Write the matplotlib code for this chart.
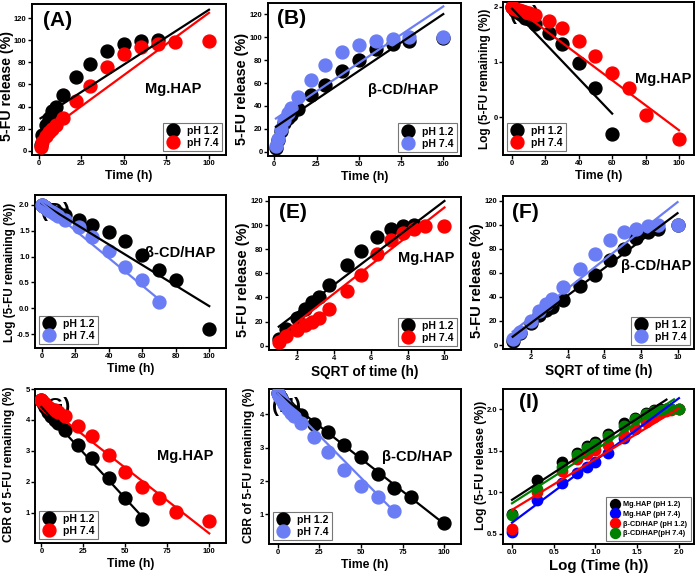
import numpy as np
import matplotlib
matplotlib.use("Agg")
import matplotlib.pyplot as plt

plt.rcParams['font.family'] = ['Liberation Sans', 'DejaVu Sans']
plt.rcParams['font.weight'] = 'bold'
plt.rcParams['axes.labelweight'] = 'bold'

# ---------------- data ----------------
time_h = [0, 1, 2, 4, 6, 8, 10, 14, 22, 30, 40, 50, 60, 70, 80, 100]
# cumulative 5-FU release (%) ; first value is t = 0
mg_ph12 = [0, 5.5, 14, 23, 30, 36, 40, 50, 67, 78.6, 90.5, 96.7, 99.5, 100]
mg_ph74 = [0, 3.3, 8, 13, 17, 20, 23, 30, 45, 58.3, 76, 87.4, 93.7, 96.7, 98.9, 99.6]
cd_ph12 = [0, 3.6, 10, 18, 25, 29, 32, 37.4, 49.4, 58.5, 70.5, 80.2, 89.4, 94.4, 96.5, 99.6]
cd_ph74 = [0, 5.3, 11, 20, 28, 34, 38, 48, 63, 76, 87.4, 93.7, 96.5, 98.7, 100, 100]

# fitted lines: (slope, intercept, x_start, x_end)
fit_A = [(0.995, 28.3, 1, 100), (1.13, 12.0, 1, 100)]
fit_B = [(0.995, 20.8, 1, 100), (0.99, 28.0, 1, 100)]
fit_C = [(-0.0318, 1.97, 0, 60), (-0.0227, 2.03, 0, 100)]
fit_D = [(-0.0199, 2.03, 0, 100), (-0.0267, 2.04, 0, 70)]
fit_E = [(11.58, 4.2, 1, 10), (11.9, -4.4, 1, 10)]
fit_F = [(11.42, -4.5, 1, 10), (11.98, -0.9, 1, 10)]
fit_G = [(-0.059, 4.42, 0, 60), (-0.0423, 4.57, 0, 100)]
fit_H = [(-0.0392, 4.63, 0, 100), (-0.0507, 4.63, 0, 70)]
fit_I = [(0.65, 0.91, 0, 1.85), (0.747, 0.636, 0, 2.0),
         (0.61, 0.79, 0, 2.0), (0.643, 0.868, 0, 1.94)]

labels_ph = ['pH 1.2', 'pH 7.4']
labels_I = ['Mg.HAP (pH 1.2)', 'Mg.HAP (pH 7.4)', 'β-CD/HAP (pH 1.2)', 'β-CD/HAP(pH 7.4)']

BLACK = '#000000'
RED = '#ff0000'
LBLUE = '#6a7df5'
BLUE = '#0000ff'
GREEN = '#008000'

W, H = 697, 576
fig = plt.figure(figsize=(W / 100, H / 100), dpi=100)
ylabel_jobs = []


def rect(l, r, t, b):
    return [l / W, 1 - b / H, (r - l) / W, (b - t) / H]


def style(ax, xlim, ylim, xticks, yticks, xlabel, xlsize, ylabel, ylsize, ylpos,
          xfmt=None, yfmt=None):
    ax.set_xlim(*xlim)
    ax.set_ylim(*ylim)
    ax.set_xticks(xticks)
    ax.set_yticks(yticks)
    if xfmt:
        ax.set_xticklabels([xfmt.format(v) for v in xticks])
    if yfmt:
        ax.set_yticklabels([yfmt.format(v) for v in yticks])
    ax.tick_params(direction='out', length=3, width=1, labelsize=5.5, pad=0.8)
    for s in ax.spines.values():
        s.set_linewidth(1.4)
    ax.set_xlabel(xlabel, fontsize=xlsize, fontweight='bold', labelpad=2)
    for lab in ax.get_xticklabels() + ax.get_yticklabels():
        lab.set_fontweight('bold')
    ylabel_jobs.append((ax, ylabel, ylsize, ylpos))


def letter(ax, txt, fx, fy):
    ax.text(fx, fy, txt, transform=ax.transAxes, fontsize=15, fontweight='bold',
            ha='center', va='center', zorder=1)


def name(ax, txt, fx, fy):
    ax.text(fx, fy, txt, transform=ax.transAxes, fontsize=10.5, fontweight='bold',
            ha='center', va='center', zorder=1)


def fitlines(ax, fits, colors):
    for (m, c, x0, x1), col in zip(fits, colors):
        xs = np.array([x0, x1], dtype=float)
        ax.plot(xs, m * xs + c, color=col, lw=1.6, zorder=4)


def legend(ax, loc, fs=7.5):
    leg = ax.legend(loc=loc, fontsize=fs, frameon=True, fancybox=False,
                    edgecolor='#555555', handlelength=1.2, handletextpad=0.8,
                    labelspacing=0.2, borderpad=0.3, borderaxespad=0.4,
                    markerscale=1.0)
    leg.get_frame().set_linewidth(0.8)
    for t in leg.get_texts():
        t.set_fontweight('bold')


def rel_xy(rel):
    t = np.array(time_h[1:len(rel)], dtype=float)
    r = np.array(rel[1:], dtype=float)
    return t, r


def rem_xy(rel):
    t = np.array(time_h[:len(rel)], dtype=float)
    r = np.array(rel, dtype=float)
    keep = r < 100
    return t[keep], 100 - r[keep]


MS = 9.3
T_SIZE = 8.8

# ---------------- (A) ----------------
ax = fig.add_axes(rect(32, 226, 4, 155))
for rel, col, lab in [(mg_ph12, BLACK, labels_ph[0]), (mg_ph74, RED, labels_ph[1])]:
    t, r = rel_xy(rel)
    ax.plot(t, r, 'o', color=col, ms=MS, label=lab, zorder=3)
fitlines(ax, fit_A, [BLACK, RED])
style(ax, (-4, 110), (-4, 133), [0, 25, 50, 75, 100], [0, 20, 40, 60, 80, 100, 120],
      'Time (h)', T_SIZE, '5-FU release (%)', 10.2, (12, 86))
letter(ax, '(A)', 0.13, 0.89)
name(ax, 'Mg.HAP', 0.73, 0.44)
legend(ax, 'lower right')

# ---------------- (B) ----------------
ax = fig.add_axes(rect(268, 461, 3, 156))
for rel, col, lab in [(cd_ph12, BLACK, labels_ph[0]), (cd_ph74, LBLUE, labels_ph[1])]:
    t, r = rel_xy(rel)
    ax.plot(t, r, 'o', color=col, ms=MS, label=lab, zorder=3)
fitlines(ax, fit_B, [BLACK, LBLUE])
style(ax, (-3.7, 110.5), (-3.8, 130), [0, 25, 50, 75, 100], [0, 20, 40, 60, 80, 100, 120],
      'Time (h)', T_SIZE, '5-FU release (%)', 10.4, (249, 89))
letter(ax, '(B)', 0.12, 0.9)
name(ax, 'β-CD/HAP', 0.70, 0.43)
legend(ax, 'lower right')

# ---------------- (C) ----------------
ax = fig.add_axes(rect(503, 694, 2, 155))
letter(ax, '(C)', 0.115, 0.92)
for rel, col, lab in [(mg_ph12, BLACK, labels_ph[0]), (mg_ph74, RED, labels_ph[1])]:
    t, r = rem_xy(rel)
    ax.plot(t, np.log10(r), 'o', color=col, ms=MS, label=lab, zorder=3)
fitlines(ax, fit_C, [BLACK, RED])
style(ax, (-5.4, 109), (-0.69, 2.09), [0, 20, 40, 60, 80, 100], [0, 1, 2],
      'Time (h)', T_SIZE, 'Log (5-FU remaining (%))', 8.5, (485, 79))
name(ax, 'Mg.HAP', 0.84, 0.5)
legend(ax, 'lower left')

# ---------------- (D) ----------------
ax = fig.add_axes(rect(35, 226, 195, 348))
letter(ax, '(D)', 0.105, 0.89)
for rel, col, lab in [(cd_ph12, BLACK, labels_ph[0]), (cd_ph74, LBLUE, labels_ph[1])]:
    t, r = rem_xy(rel)
    ax.plot(t, np.log10(r), 'o', color=col, ms=MS, label=lab, zorder=3)
fitlines(ax, fit_D, [BLACK, LBLUE])
style(ax, (-4, 110), (-0.77, 2.19), [0, 20, 40, 60, 80, 100],
      [-0.5, 0.0, 0.5, 1.0, 1.5, 2.0], 'Time (h)', T_SIZE,
      'Log (5-FU remaining (%))', 8.4, (10, 272), yfmt='{:.1f}')
name(ax, 'β-CD/HAP', 0.76, 0.62)
legend(ax, 'lower left')

# ---------------- (E) ----------------
ax = fig.add_axes(rect(269, 461, 197, 350))
for rel, col, lab in [(mg_ph12, BLACK, labels_ph[0]), (mg_ph74, RED, labels_ph[1])]:
    t, r = rel_xy(rel)
    ax.plot(np.sqrt(t), r, 'o', color=col, ms=MS, label=lab, zorder=3)
fitlines(ax, fit_E, [BLACK, RED])
style(ax, (0.47, 10.9), (-3.6, 123.3), [2, 4, 6, 8, 10], [0, 20, 40, 60, 80, 100, 120],
      'SQRT of time (h)', 9.8, '5-FU release (%)', 10.5, (249, 280))
letter(ax, '(E)', 0.127, 0.9)
name(ax, 'Mg.HAP', 0.82, 0.6)
legend(ax, 'lower right')

# ---------------- (F) ----------------
ax = fig.add_axes(rect(503, 694, 196, 349))
for rel, col, lab in [(cd_ph12, BLACK, labels_ph[0]), (cd_ph74, LBLUE, labels_ph[1])]:
    t, r = rel_xy(rel)
    ax.plot(np.sqrt(t), r, 'o', color=col, ms=MS, label=lab, zorder=3)
fitlines(ax, fit_F, [BLACK, LBLUE])
style(ax, (0.47, 10.9), (-3.3, 124), [2, 4, 6, 8, 10], [0, 20, 40, 60, 80, 100, 120],
      'SQRT of time (h)', 9.8, '5-FU release (%)', 10.6, (481, 281))
letter(ax, '(F)', 0.117, 0.89)
name(ax, 'β-CD/HAP', 0.80, 0.54)
legend(ax, 'lower right')

# ---------------- (G) ----------------
ax = fig.add_axes(rect(35, 226, 389, 543))
letter(ax, '(G)', 0.105, 0.885)
for rel, col, lab in [(mg_ph12, BLACK, labels_ph[0]), (mg_ph74, RED, labels_ph[1])]:
    t, r = rem_xy(rel)
    ax.plot(t, np.cbrt(r), 'o', color=col, ms=MS, label=lab, zorder=3)
fitlines(ax, fit_G, [BLACK, RED])
style(ax, (-3.8, 110), (0.03, 4.95), [0, 25, 50, 75, 100], [1, 2, 3, 4, 5],
      'Time (h)', T_SIZE, 'CBR of 5-FU remaining (%)', 8.7, (9, 464))
name(ax, 'Mg.HAP', 0.785, 0.565)
legend(ax, 'lower left')

# ---------------- (H) ----------------
ax = fig.add_axes(rect(269, 461, 389, 544))
letter(ax, '(H)', 0.092, 0.886)
for rel, col, lab in [(cd_ph12, BLACK, labels_ph[0]), (cd_ph74, LBLUE, labels_ph[1])]:
    t, r = rem_xy(rel)
    ax.plot(t, np.cbrt(r), 'o', color=col, ms=MS, label=lab, zorder=3)
fitlines(ax, fit_H, [BLACK, LBLUE])
style(ax, (-5.2, 110), (0.11, 4.76), [0, 25, 50, 75, 100], [1, 2, 3, 4],
      'Time (h)', T_SIZE, 'CBR of 5-FU remaining (%)', 8.7, (249, 465))
name(ax, 'β-CD/HAP', 0.77, 0.56)
legend(ax, 'lower left')

# ---------------- (I) ----------------
ax = fig.add_axes(rect(503, 694, 389, 544))
for rel, col, lab in [(mg_ph12, BLACK, labels_I[0]), (mg_ph74, BLUE, labels_I[1]),
                      (cd_ph12, RED, labels_I[2]), (cd_ph74, GREEN, labels_I[3])]:
    t, r = rel_xy(rel)
    ax.plot(np.log10(t), np.log10(r), 'o', color=col, ms=7.5, label=lab, zorder=3)
fitlines(ax, fit_I, [BLACK, BLUE, RED, GREEN])
style(ax, (-0.108, 2.18), (0.38, 2.24), [0.0, 0.5, 1.0, 1.5, 2.0], [0.5, 1.0, 1.5, 2.0],
      'Log (Time (h))', 10.8, 'Log (5-FU release (%))', 8.8, (484, 465),
      xfmt='{:.1f}', yfmt='{:.1f}')
letter(ax, '(I)', 0.135, 0.91)
leg = ax.legend(loc='lower right', fontsize=5.3, frameon=True, fancybox=False,
                edgecolor='#555555', handlelength=1.2, handletextpad=0.6,
                labelspacing=0.35, borderpad=0.5, borderaxespad=0.4, markerscale=0.95)
leg.get_frame().set_linewidth(0.8)
for tx in leg.get_texts():
    tx.set_fontweight('bold')

# ---- y labels: at the reference position, but kept clear of tick labels / figure edge
fig.canvas.draw()
renderer = fig.canvas.get_renderer()
for ax_, text, size, (xc, yc) in ylabel_jobs:
    t = fig.text(xc / W, 1 - yc / H, text, rotation=90, ha='center', va='center',
                 fontsize=size, fontweight='bold')
    bb = t.get_window_extent(renderer)
    half = bb.width / 2
    tick_left = min(lb.get_window_extent(renderer).x0 for lb in ax_.get_yticklabels()
                    if lb.get_text())
    x_pix = xc
    if x_pix + half > tick_left - 0.5:
        x_pix = tick_left - 0.5 - half
    if x_pix - half < 0.5:
        x_pix = 0.5 + half
    t.set_x(x_pix / W)

fig.savefig('out.png', dpi=100)
